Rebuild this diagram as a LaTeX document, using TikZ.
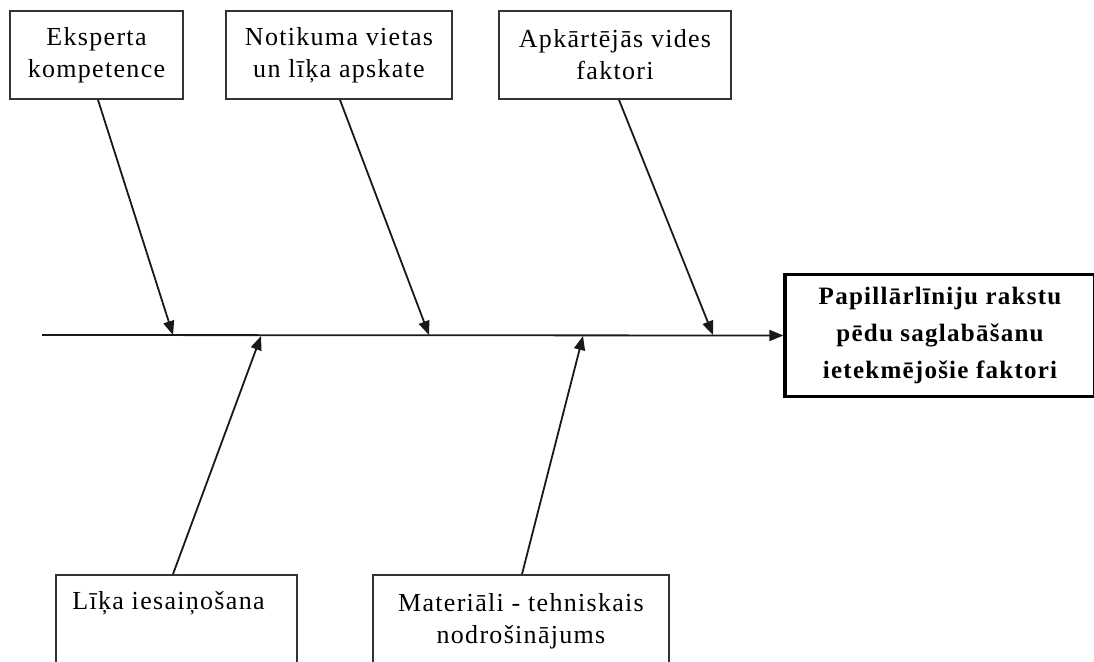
\documentclass[tikz,border=0pt]{standalone}
\usepackage{fontspec}
\setmainfont{Liberation Serif}[LetterSpace=5]
\usetikzlibrary{arrows.meta,calc}
\begin{document}
\begin{tikzpicture}[x=1pt,y=-1pt,
  cause/.style={draw=black!80,line width=1.8pt,align=center,inner sep=0pt,
    font=\fontsize{26}{32}\selectfont},
  effect/.style={draw=black,line width=3.2pt,align=center,inner sep=0pt,
    font=\bfseries\fontsize{25}{37}\selectfont},
  arr/.style={draw=black!90,line width=1.8pt,-{Triangle[length=14pt,width=11pt]}}]
\useasboundingbox (0,0) rectangle (1094,661);
\clip (0,0) rectangle (1094,661);
% top cause boxes
\node[cause,minimum width=173,minimum height=88] (c1) at (96.5,55) {Eksperta\\kompetence};
\node[cause,minimum width=226,minimum height=88] (c2) at (339,55) {Notikuma vietas\\un līķa apskate};
\node[cause,minimum width=232,minimum height=88] (c3) at (615,55) {Apkārtējās vides\\faktori};
% bottom cause boxes (cut by the lower edge)
\node[cause,minimum width=241,minimum height=92] (c4) at (176.5,621) {\hspace*{-16pt}Līķa iesaiņošana\\\strut};
\node[cause,minimum width=296,minimum height=92] (c5) at (521,621) {Materiāli - tehniskais\\nodrošinājums};
% effect box
\node[effect,minimum width=310,minimum height=122] (ef) at (940,335.5) {Papillārlīniju rakstu\\pēdu saglabāšanu\\ietekmējošie faktori};
% spine
\coordinate (s0) at (42,335);
\coordinate (t1) at (173,335);
\coordinate (t2) at (429,335);
\coordinate (t3) at (713,335);
\coordinate (t4) at (261,336);
\coordinate (t5) at (583,336);
\draw[arr] (s0) -- (ef.west);
\draw[arr] ([xshift=1.5]c1.south) -- (t1);
\draw[arr] ([xshift=1]c2.south) -- (t2);
\draw[arr] ([xshift=4]c3.south) -- (t3);
\draw[arr] ([xshift=-3.5]c4.north) -- (t4);
\draw[arr] ([xshift=1]c5.north) -- (t5);
\end{tikzpicture}
\end{document}
